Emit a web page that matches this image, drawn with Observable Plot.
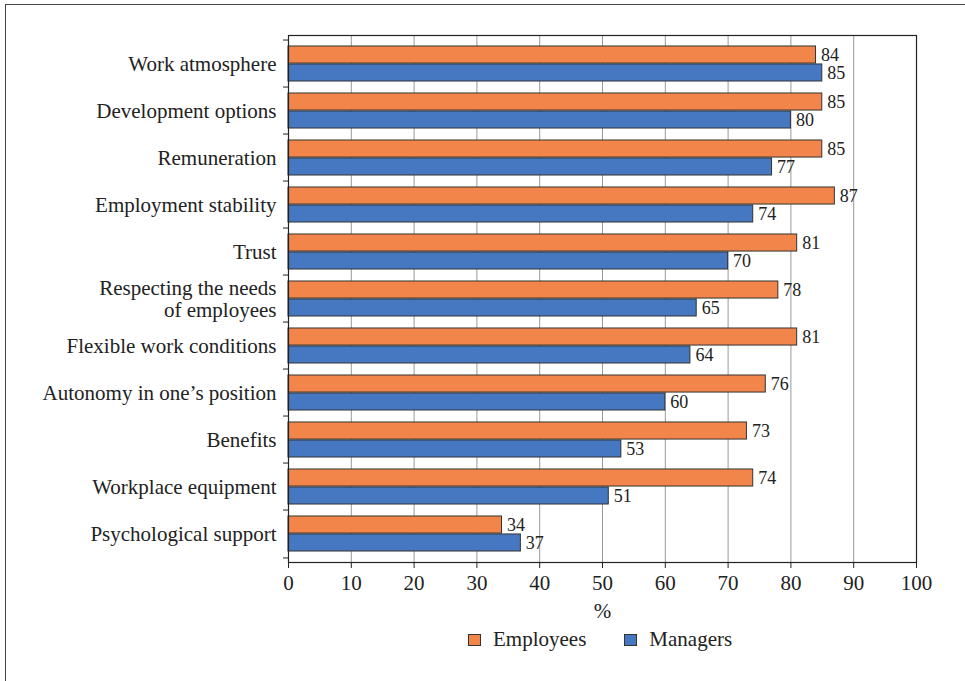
<!DOCTYPE html>
<html>
<head>
<meta charset="utf-8">
<script src="https://cdn.jsdelivr.net/npm/d3@7"></script>
<script src="https://cdn.jsdelivr.net/npm/@observablehq/plot@0.6"></script>
<style>
  body { margin: 0; background: #fff; }
  #wrap { position: relative; width: 965px; height: 681px; overflow: hidden; background: #fff;
          font-family: "Liberation Serif", "Times New Roman", serif; color: #222; }
  #border { position: absolute; left: 5px; top: 4px; width: 1200px; height: 1200px; border: 1px solid #444; box-sizing: border-box; }
  #chart { position: absolute; left: 0; top: 0; }
  #legend { position: absolute; top: 627px; left: 468px; display: flex; align-items: center; font-size: 21px; white-space: nowrap; }
  .sw { width: 13px; height: 12px; border: 1px solid #333; box-sizing: border-box; display: inline-block; }
  .lab { margin-left: 12px; margin-right: 38px; }
</style>
</head>
<body>
<div id="wrap">
  <div id="border"></div>
  <div id="chart"></div>
  <div id="legend"></div>
</div>
<script>
const categories = [
  "Work atmosphere",
  "Development options",
  "Remuneration",
  "Employment stability",
  "Trust",
  "Respecting the needs\nof employees",
  "Flexible work conditions",
  "Autonomy in one\u2019s position",
  "Benefits",
  "Workplace equipment",
  "Psychological support"
];
const employees = [84, 85, 85, 87, 81, 78, 81, 76, 73, 74, 34];
const managers  = [85, 80, 77, 74, 70, 65, 64, 60, 53, 51, 37];
const seriesNames = ["Employees", "Managers"];
const seriesColors = ["#f1854a", "#4678c1"];
const xTicks = [0, 10, 20, 30, 40, 50, 60, 70, 80, 90, 100];
const gridTicks = [10, 20, 30, 40, 50, 60, 70, 80, 90];
const xLabel = "%";

const rows = categories.map((c, i) => ({category: c, employees: employees[i], managers: managers[i]}));

const W = 965, H = 625, mt = 35, mb = 63, ml = 288, mr = 49;
const bw = (H - mt - mb) / categories.length;

const chart = Plot.plot({
  width: W,
  height: H,
  marginTop: mt,
  marginBottom: mb,
  marginLeft: ml,
  marginRight: mr,
  style: {fontFamily: "'Liberation Serif', 'Times New Roman', serif", fontSize: "21px", color: "#222", background: "transparent"},
  x: {domain: [0, 100]},
  y: {domain: categories, padding: 0},
  marks: [
    Plot.gridX(gridTicks, {stroke: "#999", strokeOpacity: 1, strokeWidth: 1}),
    Plot.barX(rows, {y: "category", x: "employees", fill: seriesColors[0], stroke: "#333", strokeWidth: 1,
      insetTop: bw * 0.125, insetBottom: bw * 0.5}),
    Plot.barX(rows, {y: "category", x: "managers", fill: seriesColors[1], stroke: "#333", strokeWidth: 1,
      insetTop: bw * 0.5, insetBottom: bw * 0.125}),
    Plot.text(rows, {y: "category", x: "employees", text: d => String(d.employees), dx: 5, dy: -bw * 0.1875,
      textAnchor: "start", fontSize: 18, fill: "#222"}),
    Plot.text(rows, {y: "category", x: "managers", text: d => String(d.managers), dx: 5, dy: bw * 0.1875,
      textAnchor: "start", fontSize: 18, fill: "#222"}),
    Plot.axisX(xTicks, {tickSize: 6, tickPadding: 7, fontSize: 21, label: null}),
    Plot.text([xLabel], {frameAnchor: "bottom", dy: 55, fontSize: 21, fill: "#222"}),
    Plot.axisY({tickSize: 0, tickPadding: 12, fontSize: 21, label: null, lineHeight: 1.05}),
    Plot.axisY({tickSize: 5, tickFormat: () => "", dy: -bw / 2, label: null}),
    Plot.axisY([categories[categories.length - 1]], {tickSize: 5, tickFormat: () => "", dy: bw / 2, label: null}),
    Plot.frame({stroke: "#222", strokeWidth: 1.2})
  ]
});
document.getElementById("chart").appendChild(chart);

const legend = document.getElementById("legend");
seriesNames.forEach((name, i) => {
  const sw = document.createElement("span");
  sw.className = "sw";
  sw.style.background = seriesColors[i];
  const lab = document.createElement("span");
  lab.className = "lab";
  lab.textContent = name;
  legend.appendChild(sw);
  legend.appendChild(lab);
});
</script>
</body>
</html>
